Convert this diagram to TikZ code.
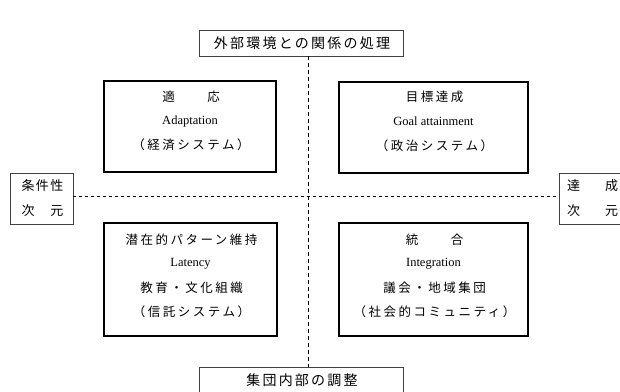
\documentclass[tikz,border=0pt]{standalone}
\usepackage{fontspec}
\setmainfont{Liberation Serif}
\newfontfamily\jplab[LetterSpace=16]{Noto Sans CJK JP}
\newfontfamily\jpside[LetterSpace=10]{Noto Sans CJK JP}
\newfontfamily\jpq[LetterSpace=20]{Noto Sans CJK JP}
\newfontfamily\jpn{Noto Sans CJK JP}
\begin{document}
\begin{tikzpicture}[x=1pt,y=-1pt,
  quad/.style={draw=black,line width=1.6pt,inner sep=0pt,rectangle},
  lab/.style={draw=black!75,line width=1pt,inner sep=0pt,rectangle},
  qjp/.style={inner sep=0pt,font=\jpq\fontsize{12.5}{14}\selectfont},
  qen/.style={inner sep=0pt,font=\fontsize{12.5}{14}\selectfont},
  ljp/.style={inner sep=0pt,font=\jplab\fontsize{14}{16}\selectfont},
  sjp/.style={inner sep=0pt,font=\jpside\fontsize{13}{15}\selectfont},
  dsh/.style={line width=0.9pt,dash pattern=on 3pt off 3pt}]
\useasboundingbox (0,0) rectangle (620,391);
\clip (0,0) rectangle (620,391);
% label boxes
\node[lab,minimum width=204pt,minimum height=26pt] (top) at (301,43) {};
\node[ljp] (topT) at (302,43) {外部環境との関係の処理};
\node[lab,minimum width=204pt,minimum height=34pt] (bot) at (301,384) {};
\node[ljp] (botT) at (302,380) {集団内部の調整};
\node[lab,minimum width=63pt,minimum height=51pt] (lbox) at (41.5,198.5) {};
\node[sjp] (l1) at (42.5,186) {条件性};
\node[sjp] (l2) at (42.5,211) {次　元};
\node[lab,minimum width=81pt,minimum height=51pt] (rbox) at (599.5,198.5) {};
\node[sjp,anchor=west] (r1) at (567,186) {\jpn 達\hspace{25pt}成};
\node[sjp,anchor=west] (r2) at (567,211) {\jpn 次\hspace{25pt}元};
% quadrant boxes
\node[quad,minimum width=172pt,minimum height=91pt] (A) at (190,126.5) {};
\node[quad,minimum width=189pt,minimum height=91pt] (G) at (433.5,127.5) {};
\node[quad,minimum width=173pt,minimum height=113pt] (L) at (190.5,279.5) {};
\node[quad,minimum width=189pt,minimum height=113pt] (I) at (433.5,279.5) {};
% texts
\node[qjp] (A1) at (191,97) {適　　応};
\node[qen] (A2) at (190,121) {Adaptation};
\node[qjp] (A3) at (191,145) {（経済システム）};
\node[qjp] (G1) at (434.5,97) {目標達成};
\node[qen] (G2) at (433.5,121) {Goal attainment};
\node[qjp] (G3) at (434.5,146) {（政治システム）};
\node[qjp] (L1) at (191.5,240) {潜在的パターン維持};
\node[qen] (L2) at (190.5,264) {Latency};
\node[qjp] (L3) at (191.5,288) {教育・文化組織};
\node[qjp] (L4) at (191.5,312) {（信託システム）};
\node[qjp] (I1) at (434.5,240) {統　　合};
\node[qen] (I2) at (433.5,264) {Integration};
\node[qjp] (I3) at (434.5,288) {議会・地域集団};
\node[qjp] (I4) at (434.5,312) {（社会的コミュニティ）};
% dashed axes
\coordinate (vt) at (308,56);
\coordinate (vb) at (308,367);
\coordinate (hl) at (73,196);
\coordinate (hr) at (559,196);
\draw[dsh,dash pattern=on 4pt off 3pt] (vt) -- (vb);
\draw[dsh] (hl) -- (hr);
\end{tikzpicture}
\end{document}
